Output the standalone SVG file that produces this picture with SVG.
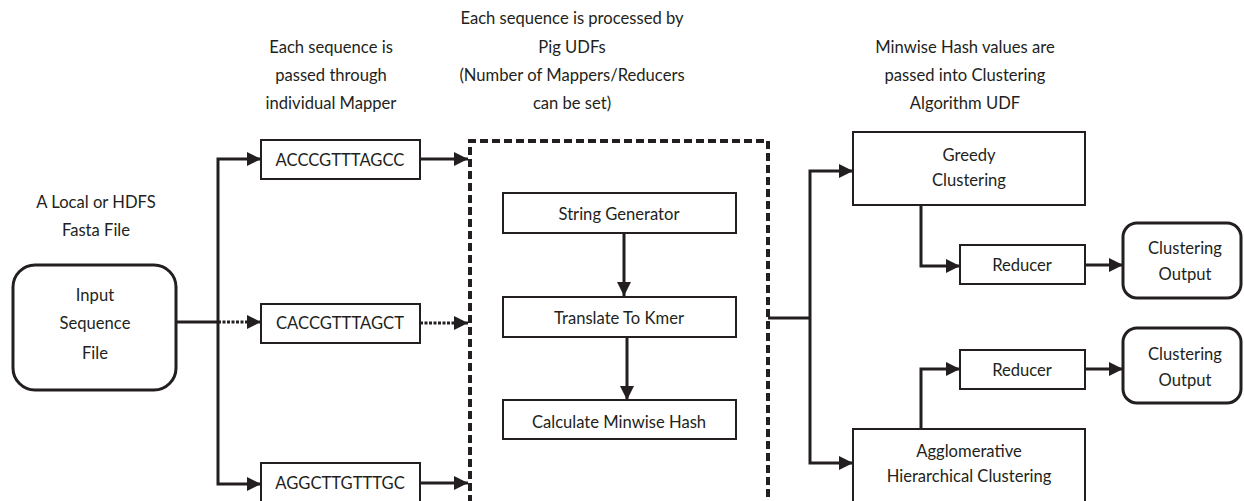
<svg xmlns="http://www.w3.org/2000/svg" width="1244" height="501" viewBox="0 0 1244 501">
<defs>
<marker id="arr" viewBox="0 0 12 12" refX="12" refY="6" markerWidth="14" markerHeight="14" markerUnits="userSpaceOnUse" orient="auto">
<path d="M0,0 L12,6 L0,12 Z" fill="#231f20"/>
</marker>
</defs>
<style>
text{font-family:Lato,"Open Sans","Liberation Sans",sans-serif;font-size:16.6px;fill:#231f20;text-anchor:middle}
.box{fill:#fff;stroke:#231f20;stroke-width:2}
.rbox{fill:#fff;stroke:#231f20;stroke-width:3}
.c{fill:none;stroke:#231f20;stroke-width:3}
.dot{stroke-dasharray:3 1.5}
.dash{fill:none;stroke:#231f20;stroke-width:4;stroke-dasharray:8 4}
</style>
<rect width="1244" height="501" fill="#fff"/>

<g id="labels">
<text x="96" y="208">A Local or HDFS</text>
<text x="96" y="236">Fasta File</text>
<text x="331" y="53">Each sequence is</text>
<text x="331" y="81">passed through</text>
<text x="331" y="109">individual Mapper</text>
<text x="572" y="24">Each sequence is processed by</text>
<text x="572" y="53">Pig UDFs</text>
<text x="572" y="81">(Number of Mappers/Reducers</text>
<text x="572" y="109">can be set)</text>
<text x="965" y="53">Minwise Hash values are</text>
<text x="965" y="81">passed into Clustering</text>
<text x="965" y="109">Algorithm UDF</text>
</g>

<g id="connectors">
<path class="c" d="M176,322 H218"/>
<path class="c" d="M218,322 V159 H 261" marker-end="url(#arr)"/>
<path class="c" d="M218,322 V484 H 261" marker-end="url(#arr)"/>
<path class="c dot" d="M218,322 H261" marker-end="url(#arr)"/>
<path class="c" d="M420,159 H468" marker-end="url(#arr)"/>
<path class="c dot" d="M420,323 H468" marker-end="url(#arr)"/>
<path class="c" d="M420,483 H468" marker-end="url(#arr)"/>
<path class="c" d="M624,233 V296" marker-end="url(#arr)"/>
<path class="c" d="M627,337 V400" marker-end="url(#arr)"/>
<path class="c" d="M768,318 H810"/>
<path class="c" d="M810,318 V171 H853" marker-end="url(#arr)"/>
<path class="c" d="M810,318 V463 H853" marker-end="url(#arr)"/>
<path class="c" d="M921,205 V266 H960" marker-end="url(#arr)"/>
<path class="c" d="M1085,265 H1123" marker-end="url(#arr)"/>
<path class="c" d="M921,429 V369 H960" marker-end="url(#arr)"/>
<path class="c" d="M1085,369 H1123" marker-end="url(#arr)"/>
</g>

<g id="input">
<rect class="rbox" x="13" y="265" width="163" height="125" rx="22"/>
<text x="95" y="301">Input</text>
<text x="95" y="329">Sequence</text>
<text x="95" y="359">File</text>
</g>

<g id="seq1">
<rect class="box" x="261" y="140" width="159" height="39"/>
<text x="340" y="166">ACCCGTTTAGCC</text>
</g>
<g id="seq2">
<rect class="box" x="261" y="304" width="159" height="39"/>
<text x="340" y="329">CACCGTTTAGCT</text>
</g>
<g id="seq3">
<rect class="box" x="261" y="463" width="159" height="39"/>
<text x="340" y="489">AGGCTTGTTTGC</text>
</g>

<g id="pig">
<path class="dash" d="M470,503 V141 H768 V503"/>
</g>

<g id="stringgen">
<rect class="box" x="503" y="193" width="233" height="40"/>
<text x="619" y="220">String Generator</text>
</g>
<g id="kmer">
<rect class="box" x="503" y="297" width="233" height="40"/>
<text x="619" y="324">Translate To Kmer</text>
</g>
<g id="minhash">
<rect class="box" x="503" y="400" width="233" height="39"/>
<text x="619" y="428">Calculate Minwise Hash</text>
</g>

<g id="greedy">
<rect class="box" x="853" y="132" width="232" height="73"/>
<text x="969" y="161">Greedy</text>
<text x="969" y="186">Clustering</text>
</g>
<g id="reducer1">
<rect class="box" x="960" y="245" width="125" height="39"/>
<text x="1022" y="271">Reducer</text>
</g>
<g id="output1">
<rect class="rbox" x="1123" y="223" width="118" height="75" rx="14"/>
<text x="1185" y="254">Clustering</text>
<text x="1185" y="280">Output</text>
</g>
<g id="reducer2">
<rect class="box" x="960" y="350" width="125" height="39"/>
<text x="1022" y="376">Reducer</text>
</g>
<g id="output2">
<rect class="rbox" x="1123" y="328" width="118" height="75" rx="14"/>
<text x="1185" y="360">Clustering</text>
<text x="1185" y="386">Output</text>
</g>
<g id="agglo">
<rect class="box" x="853" y="429" width="232" height="74"/>
<text x="969" y="457">Agglomerative</text>
<text x="969" y="482">Hierarchical Clustering</text>
</g>
</svg>
